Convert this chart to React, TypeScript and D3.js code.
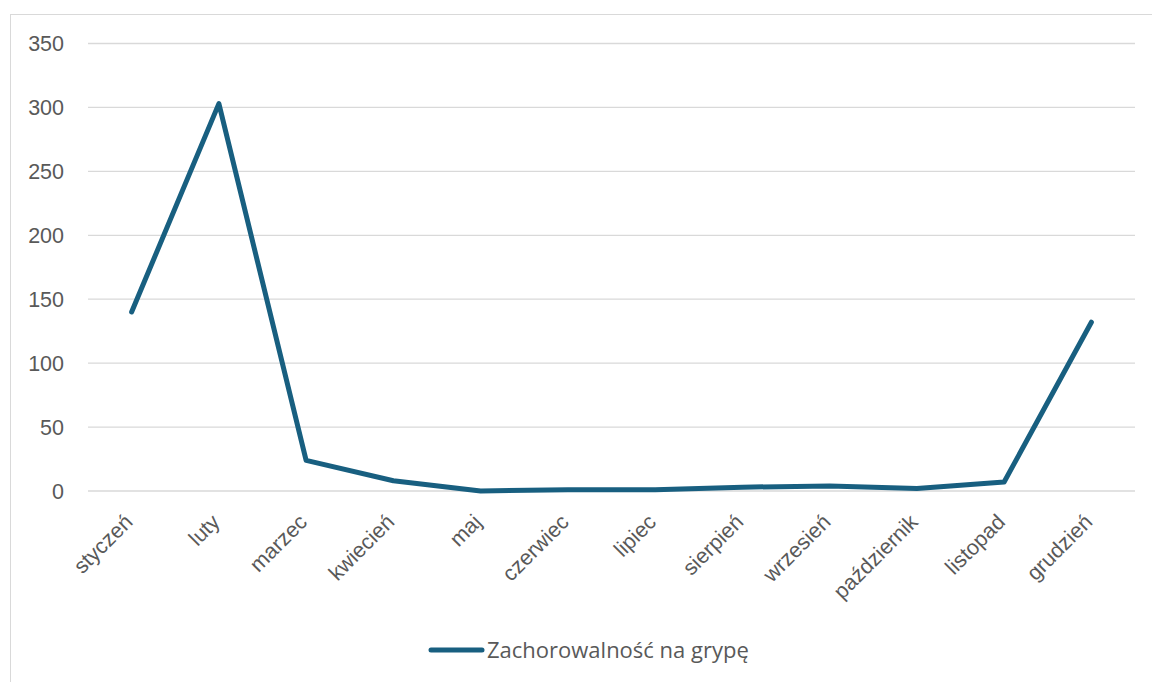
import React from "react";
import * as d3 from "d3";

const months = ["styczeń", "luty", "marzec", "kwiecień", "maj", "czerwiec", "lipiec", "sierpień", "wrzesień", "październik", "listopad", "grudzień"];
const values = [140, 303, 24, 8, 0, 1, 1, 3, 4, 2, 7, 132];
const yTicks = [0, 50, 100, 150, 200, 250, 300, 350];
const seriesName = "Zachorowalność na grypę";

const W = 1152;
const H = 682;
const left = 88;
const right = 1135;
const top = 43.5;
const bottom = 491;
const color = "#185F80";
const textColor = "#595959";

export default function App() {
  const x = d3.scaleBand<string>().domain(months).range([left, right]);
  const y = d3.scaleLinear().domain([0, 350]).range([bottom, top]);
  const line = d3
    .line<number>()
    .x((_, i) => (x(months[i]) as number) + x.bandwidth() / 2)
    .y((d) => y(d));

  return (
    <svg
      width={W}
      height={H}
      style={{ position: "absolute", left: 0, top: 0, background: "#fff" }}
      fontFamily="'Liberation Sans', Arial, sans-serif"
    >
      <rect x={10.5} y={14.5} width={W} height={H} fill="#fff" stroke="#d9d9d9" strokeWidth={1} />
      {yTicks.map((t) => (
        <g key={t}>
          <line x1={left} x2={right} y1={y(t)} y2={y(t)} stroke="#d9d9d9" strokeWidth={1.3} />
          <text x={64} y={y(t)} dy="0.35em" textAnchor="end" fontSize={21.5} fill={textColor}>
            {t}
          </text>
        </g>
      ))}
      {months.map((m) => {
        const cx = (x(m) as number) + x.bandwidth() / 2;
        return (
          <text
            key={m}
            transform={`translate(${cx - 3},${518}) rotate(-45)`}
            textAnchor="end"
            dy="0.35em"
            fontSize={21.5}
            fill={textColor}
          >
            {m}
          </text>
        );
      })}
      <path d={line(values) ?? ""} fill="none" stroke={color} strokeWidth={5} strokeLinejoin="round" strokeLinecap="round" />
      <line x1={431} x2={482} y1={650} y2={650} stroke={color} strokeWidth={5} strokeLinecap="round" />
      <text x={487} y={650} dy="0.35em" fontSize={22} fill={textColor} fontFamily="'Open Sans', 'Noto Sans', sans-serif">
        {seriesName}
      </text>
    </svg>
  );
}
